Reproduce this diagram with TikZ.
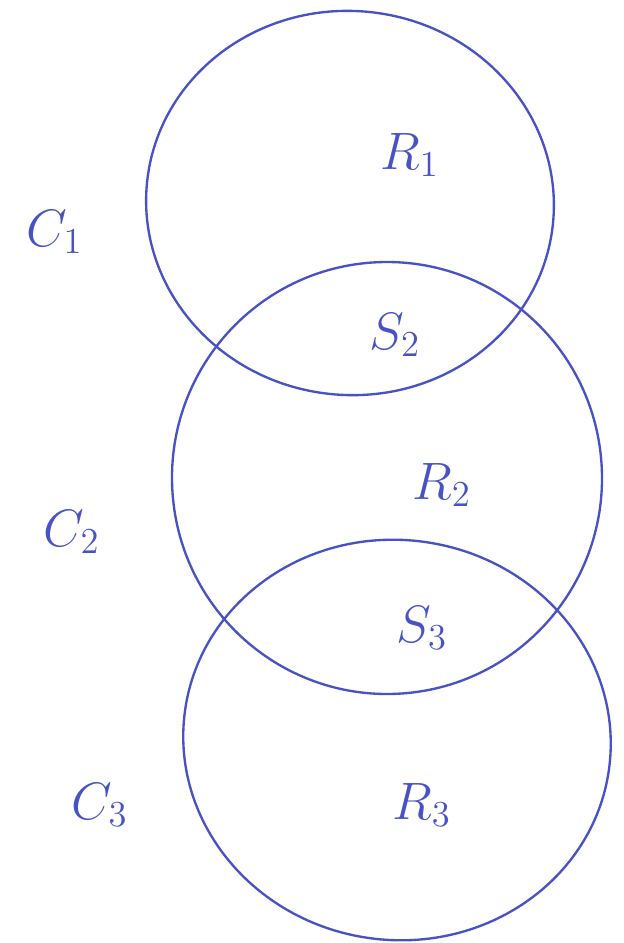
\documentclass[tikz,border=0pt]{standalone}
\usetikzlibrary{shapes.geometric}
\definecolor{pen}{RGB}{72,82,196}
\begin{document}
\begin{tikzpicture}[x=0.03cm,y=-0.03cm,
  ring/.style={draw=pen,line width=2pt},
  lbl/.style={text=pen,font=\LARGE,scale=2.6}]
\useasboundingbox (0,0) rectangle (624,943);
\draw[ring,rotate around={-6:(350,203)}] (350,203) ellipse [x radius=204,y radius=192];
\draw[ring,rotate around={4:(387,478)}] (387,478) ellipse [x radius=215,y radius=216];
\draw[ring,rotate around={-8:(397,740)}] (397,740) ellipse [x radius=214,y radius=200];
\node[lbl] (c1) at (55,232) {$C_1$};
\node[lbl] (c2) at (72,532) {$C_2$};
\node[lbl] (c3) at (100,805) {$C_3$};
\node[lbl] (r1) at (410,155) {$R_1$};
\node[lbl] (s2) at (395,335) {$S_2$};
\node[lbl] (r2) at (442,485) {$R_2$};
\node[lbl] (s3) at (422,628) {$S_3$};
\node[lbl] (r3) at (422,805) {$R_3$};
\end{tikzpicture}
\end{document}
